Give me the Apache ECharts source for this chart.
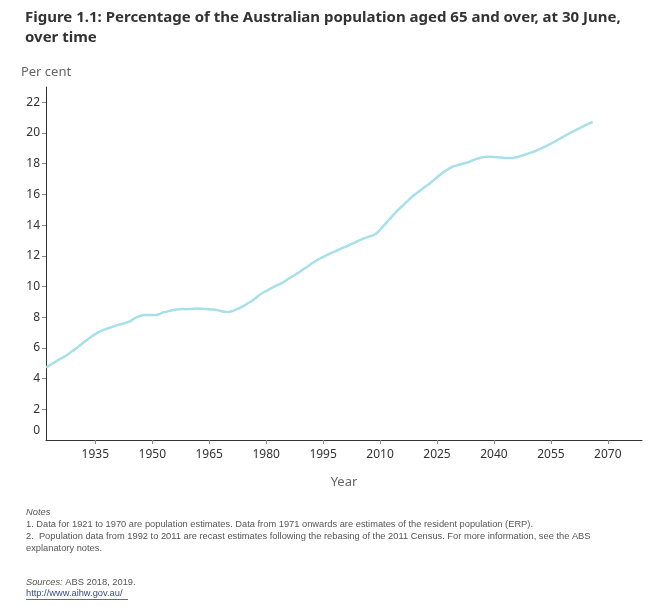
<!DOCTYPE html>
<html>
<head>
    <meta charset="utf-8">
    <title>Figure 1.1</title>
    <script src="https://cdn.jsdelivr.net/npm/echarts/dist/echarts.min.js"></script>
    <style>
        html, body { margin: 0; padding: 0; background: #fff; }
    </style>
</head>
<body>
    <div id="chart" style="width: 659px; height: 614px;"></div>

    <script type="text/javascript">
        // data, one value per year (30 June)
        var firstYear = 1922;
        var olderShare = [
            4.72, 4.88, 5.03, 5.18, 5.32, 5.45, 5.62, 5.80, 5.98, 6.17,   // 1922-1931
            6.37, 6.56, 6.74, 6.90, 7.04, 7.15, 7.25, 7.33, 7.42, 7.50,   // 1932-1941
            7.56, 7.64, 7.72, 7.88, 8.00, 8.10, 8.15, 8.15, 8.14, 8.14,   // 1942-1951
            8.22, 8.32, 8.38, 8.44, 8.49, 8.52, 8.53, 8.52, 8.53, 8.55,   // 1952-1961
            8.56, 8.55, 8.53, 8.52, 8.50, 8.47, 8.41, 8.35, 8.34, 8.40,   // 1962-1971
            8.50, 8.60, 8.72, 8.88, 9.02, 9.20, 9.40, 9.58, 9.70, 9.85,   // 1972-1981
            9.98, 10.10, 10.20, 10.36, 10.52, 10.68, 10.82, 10.98, 11.16, 11.32, // 1982-1991
            11.50, 11.66, 11.80, 11.92, 12.05, 12.17, 12.28, 12.38, 12.50, 12.60, // 1992-2001
            12.72, 12.83, 12.95, 13.05, 13.15, 13.25, 13.32, 13.45, 13.70, 13.98, // 2002-2011
            14.25, 14.52, 14.80, 15.05, 15.28, 15.52, 15.75, 15.96, 16.15, 16.34, // 2012-2021
            16.52, 16.70, 16.90, 17.12, 17.32, 17.50, 17.65, 17.80, 17.88, 17.95, // 2022-2031
            18.02, 18.08, 18.18, 18.28, 18.36, 18.42, 18.45, 18.45, 18.44, 18.42, // 2032-2041
            18.40, 18.38, 18.37, 18.38, 18.42, 18.50, 18.58, 18.66, 18.75, 18.84, // 2042-2051
            18.95, 19.06, 19.18, 19.31, 19.44, 19.58, 19.72, 19.86, 20.00, 20.13, // 2052-2061
            20.25, 20.37, 20.50, 20.62, 20.72                                     // 2062-2066
        ];
        var yearTicks = [1935, 1950, 1965, 1980, 1995, 2010, 2025, 2040, 2055, 2070];
        var percentTicks = [0, 2, 4, 6, 8, 10, 12, 14, 16, 18, 20, 22];

        var notes = [
            '1. Data for 1921 to 1970 are population estimates. Data from 1971 onwards are estimates of the resident population (ERP).',
            '2.  Population data from 1992 to 2011 are recast estimates following the rebasing of the 2011 Census. For more information, see the ABS',
            'explanatory notes.'
        ];

        var points = olderShare.map(function (v, i) {
            return [firstYear + i, v];
        });

        var chart = echarts.init(document.getElementById('chart'));

        var noteFont = "9.3px 'Liberation Sans', sans-serif";
        var noteItalic = "italic 9.3px 'Liberation Sans', sans-serif";

        function noteLine(text, top, font, color) {
            return {
                type: 'text', x: 26, y: top,
                style: { text: text, font: font || noteFont, fill: color || '#555', textVerticalAlign: 'top' }
            };
        }

        var option = {
            backgroundColor: '#fff',
            title: {
                text: 'Figure 1.1: Percentage of the Australian population aged 65 and over, at 30 June,\nover time',
                left: 25,
                top: 8,
                padding: 0,
                textStyle: {
                    fontFamily: 'Noto Sans',
                    fontSize: 15,
                    fontWeight: 'bold',
                    color: '#333',
                    lineHeight: 20
                }
            },
            grid: {
                left: 46,
                right: 17,
                top: 87,
                bottom: 174
            },
            xAxis: {
                type: 'value',
                min: 1922,
                max: 2079,
                name: 'Year',
                nameLocation: 'middle',
                nameGap: 36,
                nameTextStyle: { fontFamily: 'Noto Sans', fontSize: 13, color: '#666' },
                splitLine: { show: false },
                axisLine: { lineStyle: { color: '#333', width: 1 } },
                axisTick: {
                    customValues: yearTicks,
                    length: 4,
                    lineStyle: { color: '#888' }
                },
                axisLabel: {
                    customValues: yearTicks,
                    margin: 9,
                    fontFamily: 'Noto Sans',
                    fontSize: 12,
                    color: '#333',
                    formatter: function (v) { return String(v); }
                }
            },
            yAxis: {
                type: 'value',
                min: 0,
                max: 23,
                name: 'Per cent',
                nameLocation: 'end',
                nameGap: 8,
                nameTextStyle: { fontFamily: 'Noto Sans', fontSize: 13, color: '#666' },
                splitLine: { show: false },
                axisLine: { show: true, lineStyle: { color: '#333', width: 1 } },
                axisTick: {
                    show: true,
                    customValues: percentTicks.slice(1),
                    length: 4,
                    lineStyle: { color: '#888' }
                },
                axisLabel: {
                    customValues: percentTicks,
                    margin: 6,
                    fontFamily: 'Noto Sans',
                    fontSize: 12,
                    color: '#333',
                    formatter: function (v) {
                        // the bottom label sits a little above the axis line
                        return v === 0 ? '{zero|0}' : String(v);
                    },
                    rich: {
                        zero: {
                            fontFamily: 'Noto Sans',
                            fontSize: 12,
                            color: '#333',
                            padding: [0, 0, 18, 0]
                        }
                    }
                }
            },
            series: [
                {
                    name: 'Aged 65 and over',
                    type: 'line',
                    data: points,
                    showSymbol: false,
                    smooth: 0.3,
                    lineStyle: { color: '#a7e0ea', width: 2.5 },
                    itemStyle: { color: '#a7e0ea' }
                }
            ],
            graphic: [
                noteLine('Notes', 507.5, noteItalic),
                noteLine(notes[0], 520),
                noteLine(notes[1], 531.7),
                noteLine(notes[2], 543.7),
                {
                    type: 'text', x: 26, y: 578.3,
                    style: {
                        text: '{it|Sources:} ABS 2018, 2019.',
                        font: noteFont, fill: '#555', textVerticalAlign: 'top',
                        rich: { it: { font: noteItalic, fill: '#555' } }
                    }
                },
                noteLine('http://www.aihw.gov.au/', 589.3, noteFont, '#3a4a8a'),
                {
                    type: 'rect', x: 26, y: 599.3,
                    shape: { width: 102, height: 0.8 },
                    style: { fill: '#2233bb' }
                }
            ]
        };

        chart.setOption(option);

        window.addEventListener('resize', function () {
            chart.resize();
        });
    </script>
</body>
</html>
